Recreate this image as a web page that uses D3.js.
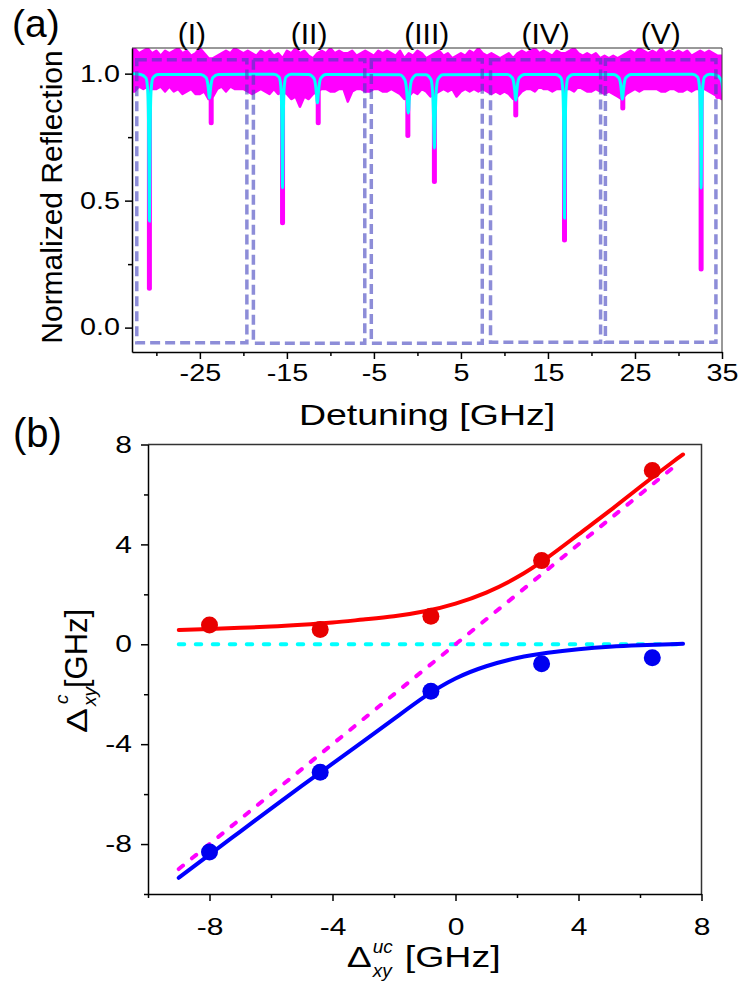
<!DOCTYPE html>
<html>
<head>
<meta charset="utf-8">
<script src="https://cdn.jsdelivr.net/npm/d3@7"></script>
<style>
    body { margin: 0; background: #fff; }
    svg { display: block; font-family: "Liberation Sans", Arial, sans-serif; }
    .wide { transform-box: fill-box; transform-origin: 50% 50%; transform: scaleX(1.25); }
    .wide-r { transform-box: fill-box; transform-origin: 100% 50%; transform: scaleX(1.25); }
    .wide-l { transform-box: fill-box; transform-origin: 0% 50%; transform: scaleX(1.25); }
</style>
</head>
<body>
<svg id="chart" width="740" height="985"></svg>
<script>
// ---------- panel (a) data ----------
const detuneMajor = [-25, -15, -5, 5, 15, 25, 35];
const detuneMinor = [-30, -20, -10, 0, 10, 20, 30];
const reflMajor = [0, 0.5, 1.0];
const reflMinor = [0.25, 0.75];

const regionNames = ['(I)', '(II)', '(III)', '(IV)', '(V)'];
const regionLeft = [-32.25, -18.85, -5.3, 8.4, 21.6];
const regionRight = [-19.6, -6.05, 7.45, 21.05, 34.3];
const regionTop = [1.055, 1.055, 1.055, 1.055, 1.055];
const regionBottom = [-0.06, -0.062, -0.062, -0.058, -0.058];

// measured noise band (upper / lower envelope), every 0.5 GHz from -33 GHz
const bandStart = -33, bandStep = 0.5;
const bandUpper = [
    1.09, 1.10, 1.08, 1.09, 1.10, 1.08, 1.09, 1.07, 1.09, 1.08,
    1.09, 1.10, 1.08, 1.09, 1.07, 1.08, 1.10, 1.08, 1.06, 1.06,
    1.07, 1.08, 1.09, 1.08, 1.10, 1.09, 1.08, 1.09, 1.08, 1.07,
    1.09, 1.08, 1.09, 1.07, 1.08, 1.06, 1.09, 1.08, 1.10, 1.08,
    1.09, 1.07, 1.06, 1.08, 1.09, 1.08, 1.10, 1.08, 1.09, 1.08,
    1.08, 1.09, 1.07, 1.08, 1.09, 1.08, 1.07, 1.09, 1.08, 1.09,
    1.08, 1.07, 1.09, 1.06, 1.08, 1.07, 1.09, 1.08, 1.06, 1.07,
    1.08, 1.09, 1.07, 1.08, 1.06, 1.07, 1.08, 1.07, 1.09, 1.08,
    1.10, 1.08, 1.07, 1.08, 1.07, 1.06, 1.07, 1.08, 1.06, 1.08,
    1.09, 1.08, 1.09, 1.10, 1.08, 1.09, 1.08, 1.07, 1.09, 1.08,
    1.08, 1.09, 1.10, 1.08, 1.07, 1.08, 1.07, 1.08, 1.06, 1.07,
    1.06, 1.07, 1.06, 1.07, 1.08, 1.09, 1.08, 1.10, 1.09, 1.08,
    1.09, 1.08, 1.10, 1.08, 1.09, 1.08, 1.09, 1.08, 1.09, 1.07,
    1.08, 1.09, 1.08, 1.09, 1.08, 1.07, 1.07
];
const bandLower = [
    0.93, 0.93, 0.95, 0.94, 0.95, 0.94, 0.94, 0.95, 0.93, 0.95,
    0.93, 0.94, 0.92, 0.93, 0.94, 0.92, 0.92, 0.93, 0.90, 0.91,
    0.94, 0.95, 0.93, 0.95, 0.94, 0.94, 0.94, 0.93, 0.92, 0.93,
    0.94, 0.93, 0.92, 0.94, 0.92, 0.93, 0.92, 0.90, 0.91, 0.87,
    0.91, 0.90, 0.92, 0.93, 0.94, 0.94, 0.93, 0.93, 0.94, 0.94,
    0.89, 0.93, 0.94, 0.94, 0.93, 0.93, 0.94, 0.94, 0.93, 0.93,
    0.94, 0.93, 0.92, 0.90, 0.91, 0.93, 0.92, 0.94, 0.93, 0.91,
    0.92, 0.93, 0.94, 0.93, 0.94, 0.91, 0.93, 0.94, 0.93, 0.94,
    0.93, 0.94, 0.93, 0.92, 0.93, 0.92, 0.93, 0.92, 0.90, 0.91,
    0.93, 0.94, 0.94, 0.93, 0.95, 0.94, 0.94, 0.93, 0.94, 0.94,
    0.94, 0.94, 0.93, 0.95, 0.94, 0.93, 0.93, 0.94, 0.93, 0.92,
    0.93, 0.92, 0.91, 0.90, 0.92, 0.93, 0.94, 0.93, 0.94, 0.94,
    0.94, 0.94, 0.93, 0.93, 0.94, 0.94, 0.93, 0.93, 0.94, 0.93,
    0.94, 0.94, 0.94, 0.93, 0.92, 0.91, 0.90
];

// measured dips (magenta data)
const dipCenter = [-30.8, -23.7, -15.5, -11.4, -1.1, 1.95, 11.3, 16.9, 23.6, 32.6, 34.5];
const dipMin = [0.155, 0.807, 0.413, 0.807, 0.756, 0.575, 0.837, 0.345, 0.865, 0.231, 0.91];

// fitted curve (cyan), read at offsets from each dip centre (one side, mirrored)
const fitCenter = [-30.8, -23.9, -15.5, -11.5, -1.05, 1.95, 11.3, 16.9, 23.55, 32.6, 35.3];
const fitOffsets = [1.0, 0.4, 0.2, 0.1, 0.05, 0];
const fitLevels = [
    [0.997, 0.983, 0.937, 0.81, 0.616, 0.42],
    [0.997, 0.985, 0.96, 0.932, 0.912, 0.904],
    [0.998, 0.987, 0.951, 0.852, 0.70, 0.551],
    [0.997, 0.982, 0.952, 0.918, 0.895, 0.885],
    [0.996, 0.976, 0.936, 0.89, 0.857, 0.845],
    [0.996, 0.978, 0.925, 0.83, 0.75, 0.707],
    [0.997, 0.984, 0.957, 0.925, 0.905, 0.896],
    [0.997, 0.983, 0.938, 0.813, 0.624, 0.432],
    [0.997, 0.984, 0.958, 0.927, 0.908, 0.90],
    [0.998, 0.987, 0.951, 0.852, 0.70, 0.55],
    [0.995, 0.976, 0.94, 0.904, 0.887, 0.88]
];

// ---------- panel (b) data ----------
const bMajor = [-8, -4, 0, 4, 8];
const bMinor = [-10, -6, -2, 2, 6];

const measX = [-8, -4.4, -0.8, 2.8, 6.4];
const measUpper = [0.77, 0.59, 1.12, 3.35, 6.96];
const measLower = [-8.32, -5.12, -1.88, -0.78, -0.54];

const fitX = [-9, -8, -7, -6, -5, -4, -3, -2, -1, 0, 1, 2, 3, 4, 5, 6, 7, 7.4];
const fitUpper = [0.57, 0.61, 0.66, 0.71, 0.78, 0.87, 0.99, 1.12, 1.32, 1.63, 2.07, 2.68, 3.48, 4.4, 5.33, 6.3, 7.24, 7.6];
const fitLower = [-9.35, -8.42, -7.5, -6.58, -5.67, -4.78, -3.89, -2.99, -2.1, -1.37, -0.88, -0.55, -0.34, -0.2, -0.1, -0.04, 0.0, 0.02];

const cavityX = [-9, 7.45];
const cavityY = [0, 0];
const bareX = [-9, 7.25];
const bareY = [-9, 7.25];

// -------------------------
const svg = d3.select('#chart');

function styleAxis(g, size, cls) {
    g.attr('font-size', size).attr('font-family', null);
    g.select('.domain').attr('stroke', '#000').attr('stroke-width', 1.5);
    g.selectAll('.tick line').attr('stroke', '#000').attr('stroke-width', 1.5);
    g.selectAll('.tick text').attr('class', cls).attr('fill', '#000');
}
function minorAxis(g) {
    g.select('.domain').remove();
    g.selectAll('.tick line').attr('stroke', '#000').attr('stroke-width', 1.5);
}

/* ===== panel (a) ===== */
const xA = d3.scaleLinear().domain([-32.8, 35]).range([132, 722]);
const yA = d3.scaleLinear().domain([-0.096, 1.101]).range([352, 48]);

svg.append('clipPath').attr('id', 'clipA')
    .append('rect')
    .attr('x', xA.range()[0]).attr('y', yA.range()[1])
    .attr('width', xA.range()[1] - xA.range()[0])
    .attr('height', yA.range()[0] - yA.range()[1]);

const plotA = svg.append('g').attr('clip-path', 'url(#clipA)');

const bandData = bandUpper.map((u, i) => ({ x: bandStart + i * bandStep, u: u, l: bandLower[i] }));
plotA.append('path')
    .datum(bandData)
    .attr('d', d3.area().x(d => xA(d.x)).y0(d => yA(d.l)).y1(d => yA(d.u)))
    .attr('fill', '#ff00ff')
    .attr('stroke', '#ff00ff')
    .attr('stroke-width', 2.5)
    .attr('stroke-linejoin', 'round');

plotA.selectAll('.dip')
    .data(dipCenter)
    .join('line')
    .attr('class', 'dip')
    .attr('x1', d => xA(d)).attr('x2', d => xA(d))
    .attr('y1', yA(0.95))
    .attr('y2', (d, i) => yA(dipMin[i]))
    .attr('stroke', '#ff00ff')
    .attr('stroke-width', 5)
    .attr('stroke-linecap', 'round');

// fit curve points
let fitPts = [[-33, 1.0]];
fitCenter.forEach((c, i) => {
    for (let j = 0; j < fitOffsets.length; j++) fitPts.push([c - fitOffsets[j], fitLevels[i][j]]);
    for (let j = fitOffsets.length - 2; j >= 0; j--) fitPts.push([c + fitOffsets[j], fitLevels[i][j]]);
});
plotA.append('path')
    .datum(fitPts)
    .attr('d', d3.line().x(d => xA(d[0])).y(d => yA(d[1])).curve(d3.curveMonotoneX))
    .attr('fill', 'none')
    .attr('stroke', '#00ffff')
    .attr('stroke-width', 3);

// dashed region boxes
svg.selectAll('.region')
    .data(regionNames)
    .join('rect')
    .attr('class', 'region')
    .attr('x', (d, i) => xA(regionLeft[i]))
    .attr('y', (d, i) => yA(regionTop[i]))
    .attr('width', (d, i) => xA(regionRight[i]) - xA(regionLeft[i]))
    .attr('height', (d, i) => yA(regionBottom[i]) - yA(regionTop[i]))
    .attr('fill', 'none')
    .attr('stroke', 'rgb(65,65,190)')
    .attr('stroke-opacity', 0.6)
    .attr('stroke-width', 3.5)
    .attr('stroke-dasharray', '10,5');

svg.selectAll('.regionLabel')
    .data(regionNames)
    .join('text')
    .attr('class', 'regionLabel')
    .attr('x', (d, i) => xA((regionLeft[i] + regionRight[i]) / 2))
    .attr('y', 44)
    .attr('text-anchor', 'middle')
    .attr('font-size', 30)
    .text(d => d);

// frame
svg.append('path')
    .attr('d', `M${xA.range()[0]},${yA.range()[1]}H${xA.range()[1]}V${yA.range()[0]}`)
    .attr('fill', 'none').attr('stroke', '#333').attr('stroke-width', 1);

// axes
svg.append('g')
    .attr('transform', `translate(0,${yA.range()[0]})`)
    .call(d3.axisBottom(xA).tickValues(detuneMinor).tickSize(4).tickFormat(''))
    .call(minorAxis);
svg.append('g')
    .attr('transform', `translate(0,${yA.range()[0]})`)
    .call(d3.axisBottom(xA).tickValues(detuneMajor).tickSize(7).tickPadding(6).tickSizeOuter(0).tickFormat(d => String(d)))
    .call(g => styleAxis(g, 23, 'wide'));

svg.append('g')
    .attr('transform', `translate(${xA.range()[0]},0)`)
    .call(d3.axisLeft(yA).tickValues(reflMinor).tickSize(4).tickFormat(''))
    .call(minorAxis);
svg.append('g')
    .attr('transform', `translate(${xA.range()[0]},0)`)
    .call(d3.axisLeft(yA).tickValues(reflMajor).tickSize(7).tickPadding(5).tickSizeOuter(0).tickFormat(d3.format('.1f')))
    .call(g => styleAxis(g, 23, 'wide-r'));

svg.append('text')
    .attr('class', 'wide')
    .attr('x', 427).attr('y', 425)
    .attr('text-anchor', 'middle')
    .attr('font-size', 30)
    .text('Detuning [GHz]');

svg.append('text')
    .attr('transform', 'translate(62,197) rotate(-90)')
    .attr('text-anchor', 'middle')
    .attr('font-size', 30)
    .text('Normalized Reflection');

svg.append('text').attr('x', 12).attr('y', 37).attr('font-size', 39).text('(a)');

/* ===== panel (b) ===== */
const xB = d3.scaleLinear().domain([-10, 8]).range([148, 701.5]);
const yB = d3.scaleLinear().domain([-10, 8]).range([894, 444.5]);

const lineB = d3.line().x(d => xB(d[0])).y(d => yB(d[1]));
const smoothB = d3.line().x(d => xB(d[0])).y(d => yB(d[1])).curve(d3.curveNatural);

svg.append('path')
    .datum(cavityX.map((x, i) => [x, cavityY[i]]))
    .attr('d', lineB)
    .attr('fill', 'none').attr('stroke', '#00ffff').attr('stroke-width', 4)
    .attr('stroke-dasharray', '5.5,11.5').attr('stroke-linecap', 'round');

svg.append('path')
    .datum(bareX.map((x, i) => [x, bareY[i]]))
    .attr('d', lineB)
    .attr('fill', 'none').attr('stroke', '#ff00ff').attr('stroke-width', 4)
    .attr('stroke-dasharray', '5.5,11.5').attr('stroke-linecap', 'round');

svg.append('path')
    .datum(fitX.map((x, i) => [x, fitUpper[i]]))
    .attr('d', smoothB)
    .attr('fill', 'none').attr('stroke', '#ff0000').attr('stroke-width', 4).attr('stroke-linecap', 'round');

svg.append('path')
    .datum(fitX.map((x, i) => [x, fitLower[i]]))
    .attr('d', smoothB)
    .attr('fill', 'none').attr('stroke', '#0000ff').attr('stroke-width', 4).attr('stroke-linecap', 'round');

svg.selectAll('.ptUp')
    .data(measX)
    .join('circle')
    .attr('class', 'ptUp')
    .attr('cx', d => xB(d))
    .attr('cy', (d, i) => yB(measUpper[i]))
    .attr('r', 8.5)
    .attr('fill', '#e80000');

svg.selectAll('.ptLo')
    .data(measX)
    .join('circle')
    .attr('class', 'ptLo')
    .attr('cx', d => xB(d))
    .attr('cy', (d, i) => yB(measLower[i]))
    .attr('r', 8.5)
    .attr('fill', '#0000f0');

svg.append('path')
    .attr('d', `M${xB.range()[0]},${yB.range()[1]}H${xB.range()[1]}V${yB.range()[0]}`)
    .attr('fill', 'none').attr('stroke', '#333').attr('stroke-width', 1.5);

svg.append('g')
    .attr('transform', `translate(0,${yB.range()[0]})`)
    .call(d3.axisBottom(xB).tickValues(bMinor).tickSize(4).tickFormat(''))
    .call(minorAxis);
svg.append('g')
    .attr('transform', `translate(0,${yB.range()[0]})`)
    .call(d3.axisBottom(xB).tickValues(bMajor).tickSize(7).tickPadding(17).tickSizeOuter(0).tickFormat(d => String(d)))
    .call(g => styleAxis(g, 24, 'wide'));

svg.append('g')
    .attr('transform', `translate(${xB.range()[0]},0)`)
    .call(d3.axisLeft(yB).tickValues(bMinor).tickSize(4).tickFormat(''))
    .call(minorAxis);
svg.append('g')
    .attr('transform', `translate(${xB.range()[0]},0)`)
    .call(d3.axisLeft(yB).tickValues(bMajor).tickSize(7).tickPadding(9).tickSizeOuter(0).tickFormat(d => String(d)))
    .call(g => styleAxis(g, 24, 'wide-r'));

// x title: Δ^uc_xy [GHz]
const xt = svg.append('g').attr('transform', `translate(${(xB.range()[0] + xB.range()[1]) / 2},967)`);
xt.append('text').attr('class', 'wide-l').attr('x', -78).attr('y', 0).attr('font-size', 30).text('\u0394');
xt.append('text').attr('x', -52).attr('y', -14).attr('font-size', 19).attr('font-style', 'italic').text('uc');
xt.append('text').attr('x', -52).attr('y', 10).attr('font-size', 19).attr('font-style', 'italic').text('xy');
xt.append('text').attr('class', 'wide-l').attr('x', -20).attr('y', 0).attr('font-size', 30).text('[GHz]');

// y title: Δ^c_xy[GHz]
const yt = svg.append('g').attr('transform', 'translate(87,733) rotate(-90)');
yt.append('text').attr('x', 0).attr('y', 0).attr('font-size', 30)
    .attr('textLength', 25).attr('lengthAdjust', 'spacingAndGlyphs').text('\u0394');
yt.append('text').attr('x', 29).attr('y', -19).attr('font-size', 19).attr('font-style', 'italic').text('c');
yt.append('text').attr('x', 27).attr('y', 9).attr('font-size', 19).attr('font-style', 'italic').text('xy');
yt.append('text').attr('x', 45).attr('y', 0).attr('font-size', 31).text('[GHz]');

svg.append('text').attr('x', 13).attr('y', 447).attr('font-size', 40).text('(b)');
</script>
</body>
</html>
